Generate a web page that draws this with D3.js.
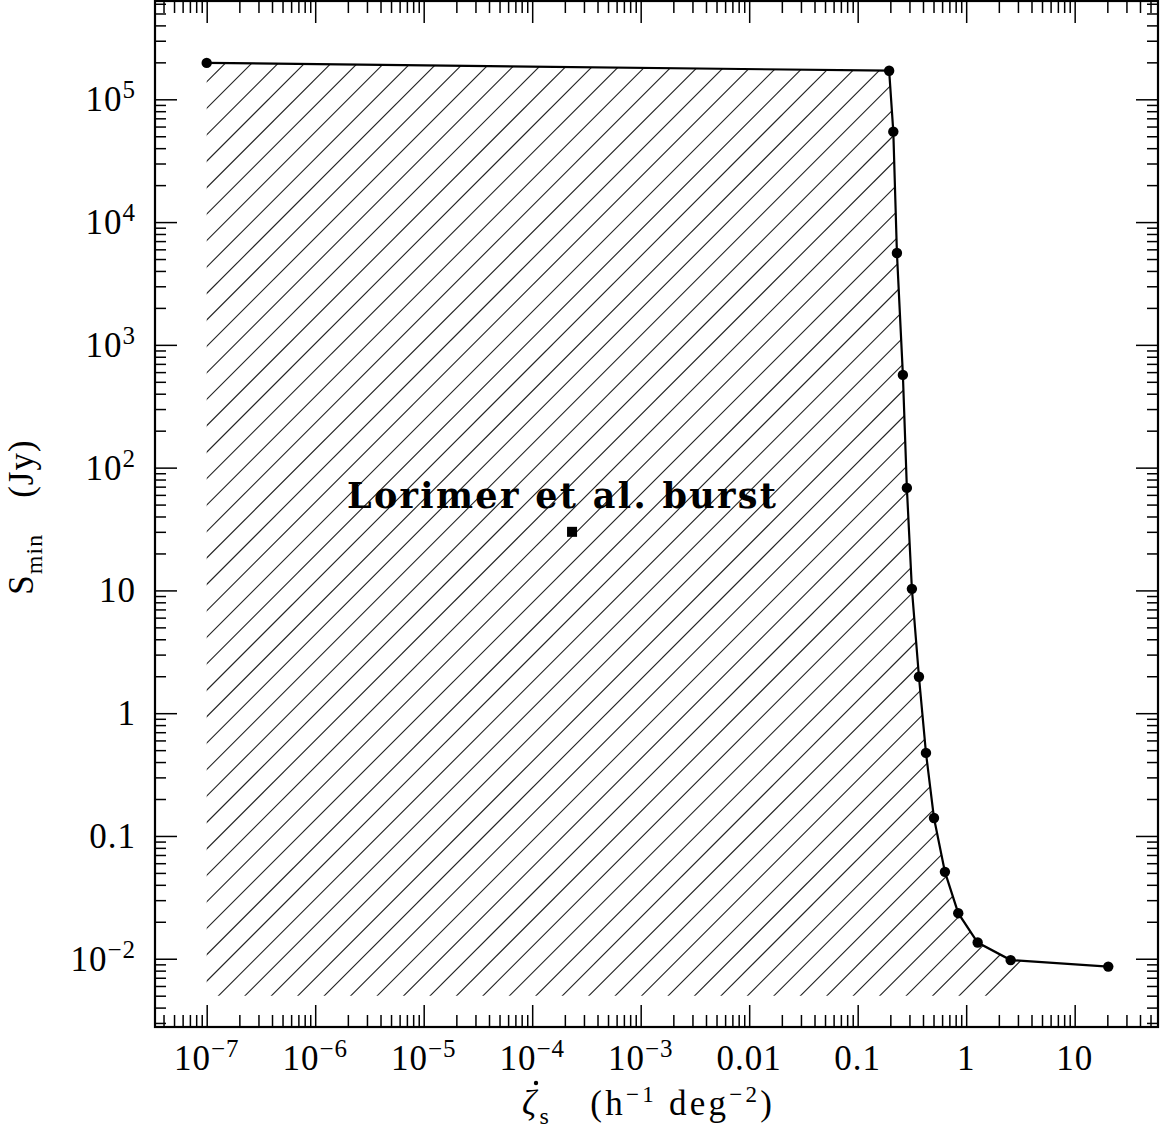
<!DOCTYPE html>
<html lang="en">
<meta charset="utf-8">
<style>
body { margin: 0; background: #fff; }
.tick line { stroke: #000; stroke-width: 1.5px; }
.label { font-family: 'Liberation Serif', serif; font-size: 35px; fill: #000; letter-spacing: 1px; }
</style>
<body>
<div id="chart"></div>
<script src="https://d3js.org/d3.v7.min.js"></script>
<script>
var width = 1160,
    height = 1132;

// frame of the plot box, in pixels
var plotLeft = 155, plotRight = 1158, plotTop = 1, plotBottom = 1027;

// curve: zeta_s (h^-1 deg^-2) vs S_min (Jy)
var zeta = [1e-7, 0.195, 0.213, 0.230, 0.261, 0.284, 0.316, 0.367, 0.426, 0.505, 0.637, 0.845, 1.276, 2.57, 20.4];
var smin = [1.98e5, 1.71e5, 5.45e4, 5.6e3, 569, 68.4, 10.3, 1.98, 0.475, 0.14, 0.051, 0.0235, 0.01355, 0.00975, 0.00863];

// the hatched region goes down to this level
var hatchFloor = 0.005;

// the burst
var burstZeta = [2.33e-4];
var burstS = [30];
var burstLabel = "Lorimer et al. burst";

var xMajor = [1e-7, 1e-6, 1e-5, 1e-4, 1e-3, 0.01, 0.1, 1, 10];
var xLabels = [["10", "\u22127"], ["10", "\u22126"], ["10", "\u22125"], ["10", "\u22124"], ["10", "\u22123"], ["0.01"], ["0.1"], ["1"], ["10"]];
var yMajor = [1e-2, 0.1, 1, 10, 100, 1e3, 1e4, 1e5];
var yLabels = [["10", "\u22122"], ["0.1"], ["1"], ["10"], ["10", "2"], ["10", "3"], ["10", "4"], ["10", "5"]];

var x = d3.scaleLog()
    .domain([Math.pow(10, -7.4765), Math.pow(10, 1.768)])
    .range([plotLeft, plotRight]);

var y = d3.scaleLog()
    .domain([Math.pow(10, -2.556), Math.pow(10, 5.8007)])
    .range([plotBottom, plotTop]);

function minors(scale) {
  var d = scale.domain(), out = [];
  var lo = Math.floor(Math.log10(d[0])), hi = Math.ceil(Math.log10(d[1]));
  for (var e = lo; e <= hi; e++) {
    for (var k = 2; k <= 9; k++) {
      var v = k * Math.pow(10, e);
      if (v >= d[0] && v <= d[1]) out.push(v);
    }
  }
  return out;
}

var svg = d3.select("#chart").append("svg")
    .attr("width", width)
    .attr("height", height);

// hatched area under the curve
var area = zeta.map(function(z, i) { return [x(z), y(smin[i])]; });
area.push([x(zeta[zeta.length - 1]), y(hatchFloor)]);
area.push([x(zeta[0]), y(hatchFloor)]);

svg.append("clipPath")
    .attr("id", "hatchclip")
  .append("path")
    .attr("d", "M" + area.join("L") + "Z");

var step = 26.45, c0 = 1214.3;
var hatch = [];
for (var c = c0 - step * 60; c < c0 + step * 30; c += step) hatch.push(c);

svg.append("g")
    .attr("clip-path", "url(#hatchclip)")
  .selectAll("line")
    .data(hatch)
  .enter().append("line")
    .attr("x1", function(c) { return c - plotBottom - 50; })
    .attr("y1", plotBottom + 50)
    .attr("x2", function(c) { return c; })
    .attr("y2", 0)
    .attr("stroke", "#222")
    .attr("stroke-width", 1.1);

// curve + dots
var line = d3.line()
    .x(function(d) { return x(d[0]); })
    .y(function(d) { return y(d[1]); });

var pts = zeta.map(function(z, i) { return [z, smin[i]]; });

svg.append("path")
    .datum(pts)
    .attr("d", line)
    .attr("fill", "none")
    .attr("stroke", "#000")
    .attr("stroke-width", 2.2);

svg.append("g").selectAll("circle")
    .data(pts)
  .enter().append("circle")
    .attr("cx", function(d) { return x(d[0]); })
    .attr("cy", function(d) { return y(d[1]); })
    .attr("r", 5.2)
    .attr("fill", "#000");

// burst marker and its label
svg.append("rect")
    .attr("x", x(burstZeta[0]) - 5)
    .attr("y", y(burstS[0]) - 5)
    .attr("width", 10)
    .attr("height", 10)
    .attr("fill", "#000");

svg.append("text")
    .attr("x", 347)
    .attr("y", 508)
    .attr("textLength", 429)
    .attr("lengthAdjust", "spacing")
    .style("font-family", "'DejaVu Serif', serif")
    .style("font-weight", "bold")
    .style("font-size", "35px")
    .text(burstLabel);

// ticks, all four sides, pointing inward
function ticks(axis, tr, vals, size) {
  var g = svg.append("g")
      .attr("transform", tr)
      .call(axis.tickValues(vals).tickSize(-size).tickFormat(""));
  g.select(".domain").remove();
}
ticks(d3.axisBottom(x), "translate(0," + plotBottom + ")", xMajor, 22);
ticks(d3.axisBottom(x), "translate(0," + plotBottom + ")", minors(x), 12);
ticks(d3.axisTop(x), "translate(0," + plotTop + ")", xMajor, 22);
ticks(d3.axisTop(x), "translate(0," + plotTop + ")", minors(x), 12);
ticks(d3.axisLeft(y), "translate(" + plotLeft + ",0)", yMajor, 22);
ticks(d3.axisLeft(y), "translate(" + plotLeft + ",0)", minors(y), 11);
ticks(d3.axisRight(y), "translate(" + plotRight + ",0)", yMajor, 22);
ticks(d3.axisRight(y), "translate(" + plotRight + ",0)", minors(y), 11);

// frame
svg.append("rect")
    .attr("x", plotLeft)
    .attr("y", plotTop)
    .attr("width", plotRight - plotLeft)
    .attr("height", plotBottom - plotTop)
    .attr("fill", "none")
    .attr("stroke", "#000")
    .attr("stroke-width", 2.2);

// tick labels with superscripts
function label(t, parts) {
  t.append("tspan").text(parts[0]);
  if (parts.length > 1) {
    t.append("tspan")
        .attr("dy", -13)
        .style("font-size", "25px")
        .text(parts[1]);
  }
}

svg.append("g").selectAll("text")
    .data(xMajor)
  .enter().append("text")
    .attr("class", "label")
    .attr("x", function(d) { return x(d); })
    .attr("y", 1070)
    .attr("text-anchor", "middle")
    .each(function(d, i) { label(d3.select(this), xLabels[i]); });

svg.append("g").selectAll("text")
    .data(yMajor)
  .enter().append("text")
    .attr("class", "label")
    .attr("x", 136)
    .attr("y", function(d) { return y(d) + 12; })
    .attr("text-anchor", "end")
    .each(function(d, i) { label(d3.select(this), yLabels[i]); });

// x title
var xt = svg.append("text")
    .attr("class", "label")
    .attr("x", 522)
    .attr("y", 1115)
    .attr("textLength", 251)
    .attr("lengthAdjust", "spacing");
xt.append("tspan").style("font-style", "italic").text("\u03B6");
xt.append("tspan").attr("dy", 9).style("font-size", "24px").text("s");
xt.append("tspan").attr("dy", -9).text("\u2003(h");
xt.append("tspan").attr("dy", -13).style("font-size", "23px").text("\u22121");
xt.append("tspan").attr("dy", 13).text("  deg");
xt.append("tspan").attr("dy", -13).style("font-size", "23px").text("\u22122");
xt.append("tspan").attr("dy", 13).text(")");

// dot over the zeta
svg.append("circle")
    .attr("cx", 536)
    .attr("cy", 1083)
    .attr("r", 2.2)
    .attr("fill", "#000");

// y title
var yt = svg.append("text")
    .attr("class", "label")
    .attr("transform", "translate(33,517) rotate(-90)")
    .attr("text-anchor", "middle");
yt.append("tspan").text("S");
yt.append("tspan").attr("dy", 9).style("font-size", "24px").text("min");
yt.append("tspan").attr("dy", -9).text("\u2003(Jy)");

</script>
</body>
</html>
